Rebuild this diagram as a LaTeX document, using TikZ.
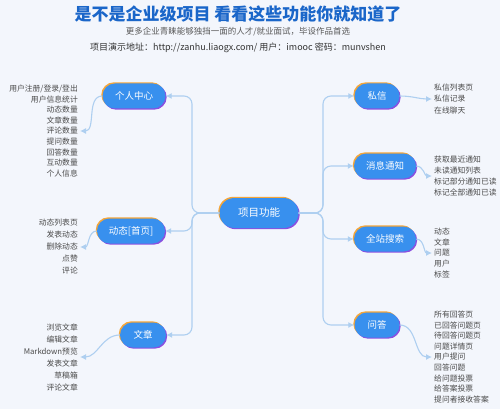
\documentclass[tikz,border=0pt]{standalone}
\usepackage{xcolor}
\usepackage{tikz}
\usepackage{fontspec}
\setmainfont{Noto Sans CJK SC}
\usetikzlibrary{arrows.meta}
\definecolor{bgcol}{HTML}{F3F6FC}
\definecolor{titleblue}{HTML}{1A66C9}
\definecolor{topicblue}{HTML}{3890EE}
\definecolor{rimorange}{HTML}{F4A63A}
\definecolor{rimpurple}{HTML}{8A4FE0}
\definecolor{linkblue}{HTML}{AECFF0}
\definecolor{itemgray}{HTML}{4A4A4A}

\begin{document}
\begin{tikzpicture}[x=1pt, y=-1pt]
    \tikzstyle{topic} = [rectangle, fill=topicblue, text=white, minimum height=25pt, rounded corners=12.5pt, inner sep=0pt, font=\fontsize{9.5}{11}\selectfont,
        preaction={fill=rimorange, transform canvas={xshift=-1.2pt, yshift=1.2pt}},
        preaction={fill=rimpurple, transform canvas={xshift=1.2pt, yshift=-1.2pt}}]
    \tikzstyle{items} = [text=itemgray, inner xsep=2pt, inner ysep=0pt]
    \tikzstyle{link} = [draw=linkblue, line width=1.1pt, rounded corners=8pt, -{Latex[length=6pt, width=6pt]}]

    \fill [bgcol] (0,0) rectangle (500,409);

    % header
    \node (title) [font=\fontsize{17}{20}\selectfont\bfseries, text=titleblue] at (238,14) {是不是企业级项目 看看这些功能你就知道了};
    \node (subtitle) [font=\fontsize{8.5}{10}\selectfont, text=black!65] at (238,32) {更多企业青睐能够独挡一面的人才/就业面试，毕设作品首选};
    \node (demo) [font=\fontsize{9}{11}\selectfont, text=black!80] at (238,48) {项目演示地址：http://zanhu.liaogx.com/ 用户：imooc 密码：munvshen};

    % topics
    \node (hub) [topic, minimum width=79pt, minimum height=30pt, rounded corners=15pt, font=\fontsize{10.5}{12}\selectfont] at (259,213) {项目功能};
    \node (pc) [topic, minimum width=63pt] at (134,96) {个人中心};
    \node (feed) [topic, minimum width=68pt] at (131,231) {动态[首页]};
    \node (post) [topic, minimum width=46pt] at (143,335) {文章};
    \node (msg) [topic, minimum width=45pt] at (377,96) {私信};
    \node (notice) [topic, minimum width=62pt] at (385,166) {消息通知};
    \node (search) [topic, minimum width=62pt] at (385,239) {全站搜索};
    \node (qa) [topic, minimum width=45pt] at (377,325) {问答};

    % item lists
    \node (pcItems) [items, anchor=east, align=right, font=\fontsize{7.8}{10.6}\selectfont] at (80,131) {用户注册/登录/登出\\用户信息统计\\动态数量\\文章数量\\评论数量\\提问数量\\回答数量\\互动数量\\个人信息};
    \node (feedItems) [items, anchor=east, align=right, font=\fontsize{7.8}{12}\selectfont] at (80,247) {动态列表页\\发表动态\\删除动态\\点赞\\评论};
    \node (postItems) [items, anchor=east, align=right, font=\fontsize{7.8}{12}\selectfont] at (80,357) {浏览文章\\编辑文章\\Markdown预览\\发表文章\\草稿箱\\评论文章};
    \node (msgItems) [items, anchor=west, align=left, font=\fontsize{7.8}{11.5}\selectfont] at (432,99) {私信列表页\\私信记录\\在线聊天};
    \node (noticeItems) [items, anchor=west, align=left, font=\fontsize{7.8}{11}\selectfont] at (432,176) {获取最近通知\\未读通知列表\\标记部分通知已读\\标记全部通知已读};
    \node (searchItems) [items, anchor=west, align=left, font=\fontsize{7.8}{10.8}\selectfont] at (432,253) {动态\\文章\\问题\\用户\\标签};
    \node (qaItems) [items, anchor=west, align=left, font=\fontsize{7.8}{10.6}\selectfont] at (432,357) {所有回答页\\已回答问题页\\待回答问题页\\问题详情页\\用户提问\\回答问题\\给问题投票\\给答案投票\\提问者接收答案};

    % trunks
    \coordinate (trunkL) at (192,213);
    \coordinate (trunkR) at (323,213);

    \draw [link] (hub.west) -- (trunkL) -- (trunkL |- pc) -- (pc.east);
    \draw [link] (hub.west) -- (trunkL) -- (trunkL |- feed) -- (feed.east);
    \draw [link] (hub.west) -- (trunkL) -- (trunkL |- post) -- (post.east);
    \draw [link] (hub.east) -- (trunkR) -- (trunkR |- msg) -- (msg.west);
    \draw [link] (hub.east) -- (trunkR) -- (trunkR |- notice) -- (notice.west);
    \draw [link] (hub.east) -- (trunkR) -- (trunkR |- search) -- (search.west);
    \draw [link] (hub.east) -- (trunkR) -- (trunkR |- qa) -- (qa.west);

    \draw [link] (pc.west) to[out=180, in=0] (pcItems.east);
    \draw [link] (feed.west) to[out=180, in=0] (feedItems.east);
    \draw [link] (post.west) to[out=180, in=0] (postItems.east);
    \draw [link] (msg.east) to[out=0, in=180] (msgItems.west);
    \draw [link] (notice.east) to[out=0, in=180] (noticeItems.west);
    \draw [link] (search.east) to[out=0, in=180] (searchItems.west);
    \draw [link] (qa.east) to[out=0, in=180] (qaItems.west);
\end{tikzpicture}
\end{document}
